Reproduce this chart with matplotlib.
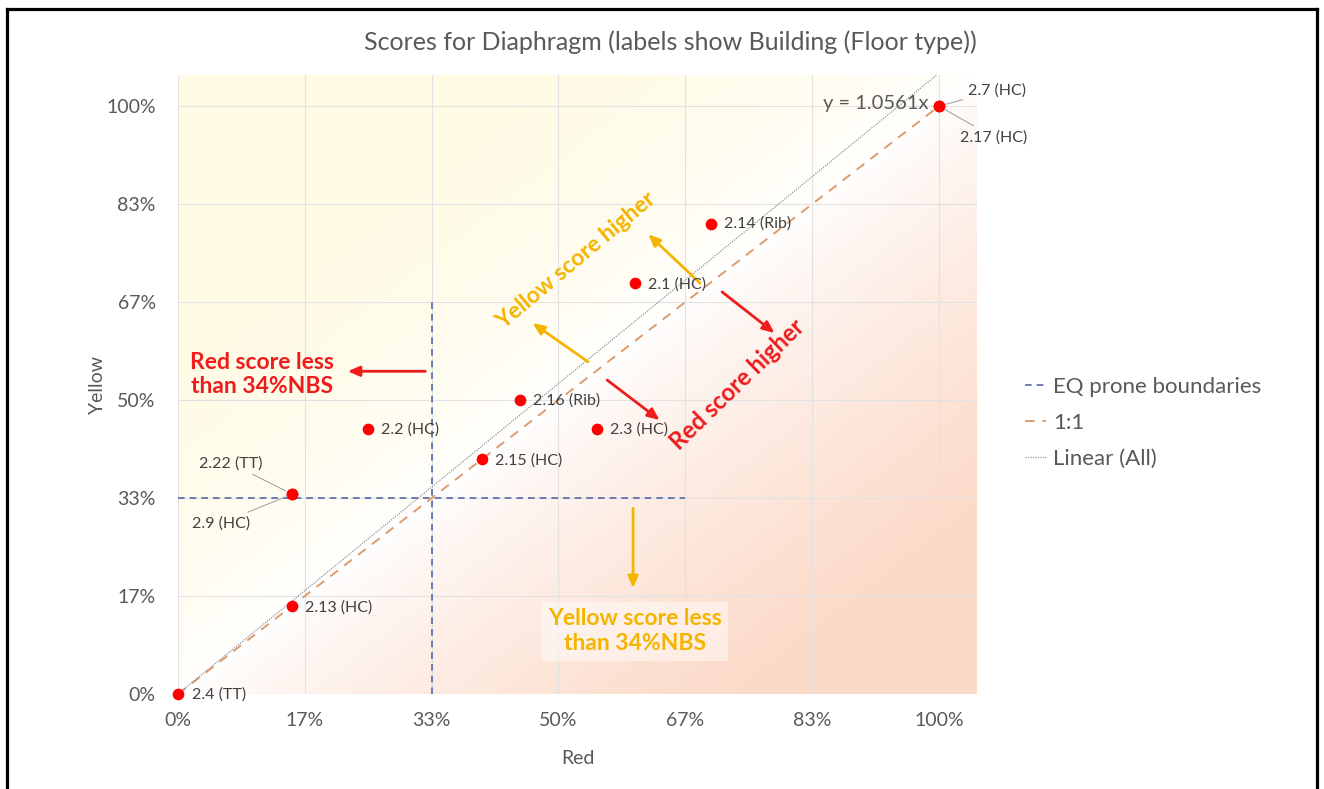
import numpy as np
import matplotlib
matplotlib.use("Agg")
import matplotlib.pyplot as plt
from matplotlib.lines import Line2D


# =========================
# Data
# =========================
point_labels = [
    "2.4 (TT)", "2.13 (HC)", "2.22 (TT)", "2.9 (HC)", "2.2 (HC)", "2.15 (HC)",
    "2.16 (Rib)", "2.3 (HC)", "2.1 (HC)", "2.14 (Rib)", "2.7 (HC)", "2.17 (HC)",
]
red_score = [0.00, 0.15, 0.15, 0.15, 0.25, 0.40, 0.45, 0.55, 0.60, 0.70, 1.00, 1.00]
yellow_score = [0.00, 0.15, 0.34, 0.34, 0.45, 0.40, 0.50, 0.45, 0.70, 0.80, 1.00, 1.00]

tick_values = [0, 1 / 6, 2 / 6, 3 / 6, 4 / 6, 5 / 6, 1]
tick_labels = ["0%", "17%", "33%", "50%", "67%", "83%", "100%"]

eq_boundary = 1 / 3
eq_extent = 2 / 3

# label placement (pixels from point) and whether a leader line is drawn
label_offsets = [
    (14, -1), (13, -2), (-30, 31), (-42, -29), (13, 0), (13, -2),
    (13, 0), (13, 0), (13, -2), (13, 0), (29, 16), (21, -31),
]
label_leader = [False, False, True, True, False, False,
                False, False, False, False, True, True]

# =========================
# Style
# =========================
GREY_TXT = "#595959"
GOLD = "#F4B400"
RED = "#EE1C1C"
XMAX, YMAX = 1.05, 1.053

plt.rcParams["font.family"] = ["Lato", "DejaVu Sans"]

fig = plt.figure(figsize=(13.24, 7.89), dpi=100)
ax = fig.add_axes([178 / 1324, 1 - 694 / 789, 799 / 1324, 619 / 789])

# background gradient: pale yellow top-left, peach bottom-right
gx = np.linspace(0, XMAX, 400)
gy = np.linspace(YMAX, 0, 400)
GX, GY = np.meshgrid(gx, gy)
d = GX - GY
w_yel = np.clip(-d / 0.6, 0, 1) ** 0.6
w_pch = np.clip(d / 0.75, 0, 1) ** 0.75
yel = np.array([1.0, 0.985, 0.895])
pch = np.array([0.988, 0.855, 0.785])
img = np.ones((400, 400, 3))
img = img * (1 - w_yel - w_pch)[..., None] + yel * w_yel[..., None] + pch * w_pch[..., None]
ax.imshow(img, extent=(0, XMAX, 0, YMAX), aspect="auto", zorder=0, interpolation="bilinear")

ax.set_xlim(0, XMAX)
ax.set_ylim(0, YMAX)
ax.set_axisbelow(True)
ax.grid(True, color="#E2E2E2", lw=0.8)
for s in ax.spines.values():
    s.set_visible(False)
ax.set_xticks(tick_values)
ax.set_xticklabels(tick_labels)
ax.set_yticks(tick_values)
ax.set_yticklabels(tick_labels)
ax.tick_params(length=0, labelsize=14, colors=GREY_TXT, pad=16)
ax.tick_params(axis="x", pad=13)
ax.set_xlabel("Red", fontsize=14, color=GREY_TXT, labelpad=15)
ax.set_ylabel("Yellow", fontsize=14, color=GREY_TXT, labelpad=0)

# reference lines
x = np.array(red_score)
y = np.array(yellow_score)
slope = np.sum(x * y) / np.sum(x * x)

ax.plot([eq_boundary, eq_boundary, np.nan, 0, eq_extent],
        [0, eq_extent, np.nan, eq_boundary, eq_boundary],
        color="#5468A8", lw=1.2, dashes=(4, 3), label="EQ prone boundaries", zorder=2)
ax.plot([0, 1], [0, 1], color="#DE9A6C", lw=1.4, dashes=(5, 4), label="1:1", zorder=2)
ax.plot([0, 1], [0, slope], color="#8E93A3", lw=0.9, ls=(0, (1, 1)), label="Linear (All)", zorder=2)

ax.scatter(x, y, s=55, color="#FF0000", zorder=4, clip_on=False)

for lab, xi, yi, off, lead in zip(point_labels, x, y, label_offsets, label_leader):
    ha = "right" if off[0] < 0 else "left"
    kw = {}
    if lead:
        kw["arrowprops"] = dict(arrowstyle="-", color="#A6A6A6", lw=0.8, shrinkA=2, shrinkB=5)
    ax.annotate(lab, (xi, yi), xytext=off, textcoords="offset pixels",
                ha=ha, va="center", fontsize=11.5, color="#404040", zorder=5, **kw)

ax.text(0.986, 1.005, f"y = {slope:.4f}x", ha="right", va="center", fontsize=14.5, color=GREY_TXT)

# region annotations
ax.text(0.523, 0.738, "Yellow score higher", rotation=40, rotation_mode="anchor",
        ha="center", va="center", fontsize=16.5, fontweight="bold", color=GOLD)
ax.text(0.735, 0.526, "Red score higher", rotation=44, rotation_mode="anchor",
        ha="center", va="center", fontsize=17, fontweight="bold", color=RED)
ax.text(0.11, 0.544, "Red score less\nthan 34%NBS", ha="center", va="center",
        fontsize=16.5, fontweight="bold", color=RED, linespacing=1.2)
ax.text(0.60, 0.107, "Yellow score less\nthan 34%NBS", ha="center", va="center",
        fontsize=16.5, fontweight="bold", color=GOLD, linespacing=1.2,
        bbox=dict(boxstyle="square,pad=0.3", fc="white", ec="none", alpha=0.45))

arrows = [
    ((0.539, 0.565), (0.466, 0.631), GOLD),
    ((0.686, 0.699), (0.618, 0.782), GOLD),
    ((0.564, 0.534), (0.633, 0.466), RED),
    ((0.715, 0.684), (0.784, 0.614), RED),
    ((0.325, 0.549), (0.223, 0.549), RED),
    ((0.598, 0.316), (0.598, 0.180), GOLD),
]
for tail, head, col in arrows:
    ax.annotate("", xy=head, xytext=tail,
                arrowprops=dict(arrowstyle="-|>,head_length=0.7,head_width=0.3",
                                color=col, lw=2, shrinkA=0, shrinkB=0), zorder=3)

ax.legend(loc="center left", bbox_to_anchor=(1.035, 0.438), frameon=False,
          fontsize=16, handlelength=0.95, labelspacing=0.73, handletextpad=0.3,
          labelcolor=GREY_TXT)

fig.text(0.506, 1 - 42 / 789, "Scores for Diaphragm (labels show Building (Floor type))",
         ha="center", va="center", fontsize=18, color=GREY_TXT)

# outer frame (bottom edge is outside the picture)
for xs, ys in [((7 / 1324, 7 / 1324), (0, 1 - 9 / 789)),
               ((7 / 1324, 1317 / 1324), (1 - 9 / 789, 1 - 9 / 789)),
               ((1317 / 1324, 1317 / 1324), (1 - 9 / 789, 0))]:
    fig.add_artist(Line2D(xs, ys, color="black", lw=2.3, transform=fig.transFigure))

fig.savefig("out.png", dpi=100)
